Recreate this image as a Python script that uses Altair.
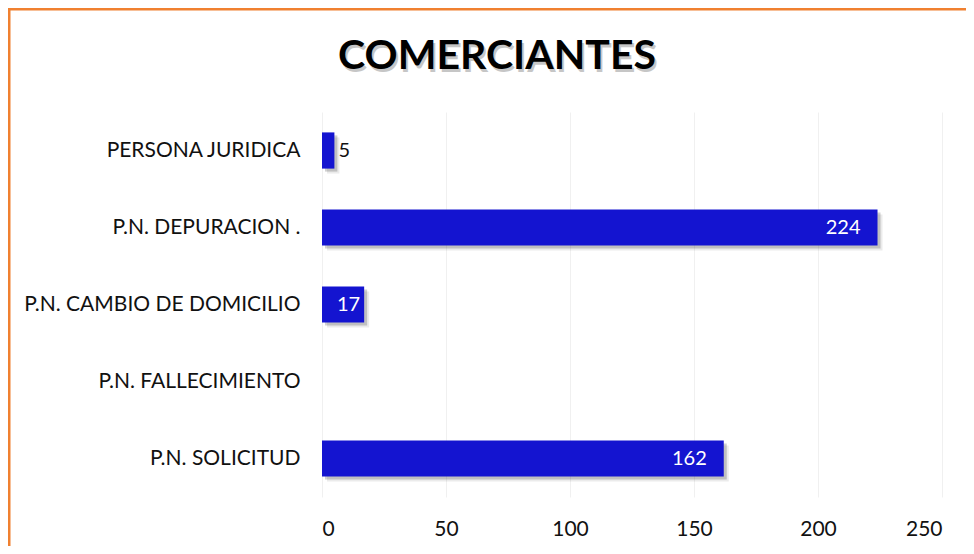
import altair as alt
import pandas as pd

categories = ["PERSONA JURIDICA", "P.N. DEPURACION .", "P.N. CAMBIO DE DOMICILIO",
              "P.N. FALLECIMIENTO", "P.N. SOLICITUD "]
values = [5, 224, 17, 0, 162]
x_ticks = [0, 50, 100, 150, 200, 250]
title_text = "COMERCIANTES"

df = pd.DataFrame({"cat": categories, "value": values})

FONT = "Lato"
BAR = "#1414d0"

W, H = 620, 385
PL, PT = 314, 104
CW, CH = 958, 538

x_enc = alt.X("value:Q", scale=alt.Scale(domain=[0, 250], nice=False),
              axis=alt.Axis(values=x_ticks, title=None, domain=False, ticks=False,
                            labelFontSize=21, labelColor="#111111", labelPadding=21,
                            labelFont=FONT, grid=True, gridColor="#f0f0f0"))
y_enc = alt.Y("cat:N", sort=categories, scale=alt.Scale(paddingInner=0.53, paddingOuter=0.265),
              axis=alt.Axis(title=None, domain=False, ticks=False, labelFontSize=21,
                            labelColor="#111111", labelPadding=22, labelFont=FONT,
                            labelLimit=400))

base = alt.Chart(df).encode(y=y_enc)

shadow2 = base.mark_bar(color="#000000", opacity=0.08, xOffset=5, x2Offset=5, yOffset=5, y2Offset=5).encode(
    x=x_enc, x2=alt.datum(0)).transform_filter("datum.value > 0")
shadow = base.mark_bar(color="#000000", opacity=0.18, xOffset=3, x2Offset=3, yOffset=3, y2Offset=3).encode(
    x=x_enc, x2=alt.datum(0)).transform_filter("datum.value > 0")
bars = base.mark_bar(color=BAR).encode(x=x_enc)

lbl_out = base.mark_text(align="left", dx=4, fontSize=20, font=FONT, color="#111111").encode(
    x="value:Q", text="value:Q").transform_filter("datum.value > 0 && datum.value < 10")
lbl_mid = base.mark_text(align="right", dx=-4, fontSize=20, font=FONT, color="white").encode(
    x="value:Q", text="value:Q").transform_filter("datum.value >= 10 && datum.value < 100")
lbl_in = base.mark_text(align="right", dx=-17, fontSize=20, font=FONT, color="white").encode(
    x="value:Q", text="value:Q").transform_filter("datum.value >= 100")

deco = pd.DataFrame({"t": [title_text]})
title_shadow = alt.Chart(deco).mark_text(fontSize=41, fontWeight="bold", font=FONT, color="#000000",
                                         opacity=0.22, baseline="alphabetic", align="center").encode(
    x=alt.value(175 + 2), y=alt.value(-43 + 3), text="t:N")
title = alt.Chart(deco).mark_text(fontSize=41, fontWeight="bold", font=FONT, color="#000000",
                                  baseline="alphabetic", align="center").encode(
    x=alt.value(175), y=alt.value(-43), text="t:N")

frame_top = alt.Chart(deco).mark_rule(color="#f08030", strokeWidth=3).encode(
    x=alt.value(-PL), x2=alt.value(CW - PL), y=alt.value(-PT + 1))
frame_left = alt.Chart(deco).mark_rule(color="#f08030", strokeWidth=3).encode(
    x=alt.value(-PL + 1), y=alt.value(-PT), y2=alt.value(CH - PT))

chart = alt.layer(shadow2, shadow, bars, lbl_out, lbl_mid, lbl_in, title_shadow, title,
                  frame_top, frame_left).properties(
    width=W, height=H,
    padding={"left": PL, "top": PT, "right": CW - PL - W, "bottom": CH - PT - H},
    autosize=alt.AutoSizeParams(type="none"),
    background="white",
).configure_view(stroke=None)

chart.save("out.html", embed_options={"renderer": "svg", "actions": False})
